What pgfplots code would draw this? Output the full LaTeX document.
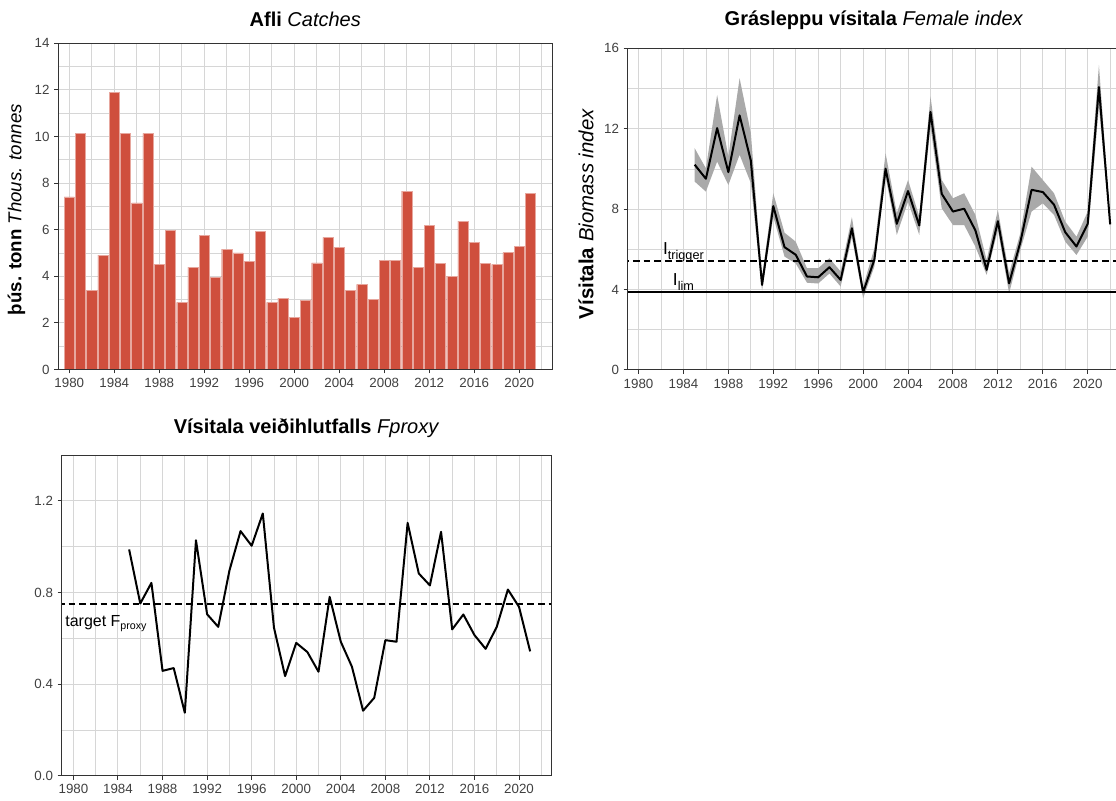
\documentclass[border=0pt]{standalone}
\usepackage{pgfplots}
\pgfplotsset{compat=1.18}
\usepackage{pgfplotstable}
\usepgfplotslibrary{fillbetween}
\usepackage{fontspec}
\setmainfont{Liberation Sans}

\definecolor{barred}{HTML}{CF4F3D}
\definecolor{gridgray}{HTML}{D6D6D6}
\definecolor{framegray}{HTML}{333333}
\definecolor{ribbon}{HTML}{A9A9A9}

\newcommand{\sub}[1]{\raisebox{-0.28em}{\fontsize{9.5}{10}\selectfont #1}}

% catches (thousand tonnes)
\pgfplotstableread{
year catch
1980 7.41
1981 10.13
1982 3.40
1983 4.91
1984 11.88
1985 10.13
1986 7.15
1987 10.13
1988 4.52
1989 5.98
1990 2.88
1991 4.39
1992 5.77
1993 3.95
1994 5.17
1995 5.01
1996 4.64
1997 5.94
1998 2.88
1999 3.06
2000 2.23
2001 2.98
2002 4.58
2003 5.67
2004 5.25
2005 3.39
2006 3.65
2007 3.00
2008 4.68
2009 4.68
2010 7.66
2011 4.39
2012 6.17
2013 4.55
2014 4.00
2015 6.37
2016 5.47
2017 4.55
2018 4.51
2019 5.02
2020 5.29
2021 7.56
}\catches

% female biomass index with band
\pgfplotstableread{
year est lo hi
1985 10.21 9.37 11.03
1986 9.51 8.87 10.03
1987 12.03 10.36 13.68
1988 9.84 9.20 10.61
1989 12.66 10.70 14.51
1990 10.42 9.30 11.80
1991 4.23 3.95 4.60
1992 8.15 7.63 8.79
1993 6.11 5.64 6.83
1994 5.73 5.30 6.38
1995 4.65 4.34 5.06
1996 4.61 4.30 5.06
1997 5.11 4.80 5.56
1998 4.48 4.15 4.90
1999 7.05 6.60 7.60
2000 3.87 3.57 4.15
2001 5.48 5.14 6.05
2002 10.01 9.62 10.78
2003 7.27 6.72 7.80
2004 8.90 8.37 9.45
2005 7.19 6.72 7.63
2006 12.83 12.10 13.60
2007 8.76 8.04 9.45
2008 7.88 7.21 8.54
2009 8.02 7.21 8.79
2010 6.94 6.13 7.71
2011 4.98 4.73 5.47
2012 7.40 6.97 7.96
2013 4.31 3.82 4.81
2014 6.35 5.97 6.80
2015 8.96 7.88 10.11
2016 8.85 8.29 9.45
2017 8.22 7.71 8.79
2018 6.85 6.38 7.38
2019 6.14 5.72 6.63
2020 7.27 6.63 7.88
2021 14.07 13.10 15.17
2022 7.24 7.00 7.50
}\findex

% Fproxy
\pgfplotstableread{
year f
1985 0.988
1986 0.752
1987 0.842
1988 0.458
1989 0.470
1990 0.275
1991 1.028
1992 0.705
1993 0.650
1994 0.895
1995 1.068
1996 1.004
1997 1.145
1998 0.647
1999 0.435
2000 0.580
2001 0.540
2002 0.454
2003 0.781
2004 0.585
2005 0.476
2006 0.284
2007 0.340
2008 0.592
2009 0.585
2010 1.104
2011 0.883
2012 0.831
2013 1.065
2014 0.639
2015 0.704
2016 0.614
2017 0.554
2018 0.650
2019 0.813
2020 0.737
2021 0.543
}\fproxy

\pgfplotsset{
  layers/gglayers/.define layer set={axis background,axis grid,pre main,main,axis ticks,axis lines,axis tick labels,axis descriptions,axis foreground}{/pgfplots/layers/standard},
  ggstyle/.style={
    set layers=gglayers,
    scale only axis,
    anchor=south west,
    axis line style={framegray, line width=0.75pt},
    tick style={framegray, line width=0.75pt},
    tick align=outside,
    xtick pos=bottom, ytick pos=left,
    major tick length=3pt,
    minor tick length=0pt,
    grid=both,
    major grid style={gridgray, line width=0.75pt},
    minor grid style={gridgray, line width=0.6pt},
    tick label style={font=\fontsize{10}{12}\selectfont, text=black!75},
    /pgf/number format/assume math mode=true,
    /pgf/number format/1000 sep={},
    scaled ticks=false,
    xtick={1980,1984,...,2020},
    minor xtick={1982,1986,...,2022},
    title style={font=\fontsize{15}{18}\selectfont, at={(0.5,1)}, anchor=base},
    ylabel style={anchor=base},
  },
}

\begin{document}
\begin{tikzpicture}

% Afli / Catches
\begin{axis}[ggstyle,
  at={(43.7pt,322.9pt)}, width=370.5pt, height=244.6pt,
  xmin=1979.02, xmax=2022.93, ymin=0, ymax=14,
  ytick={0,2,...,14}, minor ytick={1,3,...,13},
  ybar, bar width=0.9,
  title={\textbf{Afli} \textit{Catches}}, title style={yshift=6.5pt},
  ylabel={\textbf{þús. tonn} \textit{Thous. tonnes}},
  ylabel style={font=\fontsize{14}{17}\selectfont, at={(axis description cs:-0.0749,0.49)}},
]
\addplot[fill=barred, draw=white!50!barred, line width=0.35pt] table[x=year, y=catch] {\catches};
\end{axis}

% Grásleppu vísitala / Female index
\begin{axis}[ggstyle,
  at={(470.8pt,322.5pt)}, width=369.4pt, height=241.3pt,
  xmin=1979.04, xmax=2022.9, ymin=0, ymax=16,
  ytick={0,4,...,16}, minor ytick={2,6,10,14},
  title={\textbf{Grásleppu vísitala} \textit{Female index}}, title style={yshift=10.7pt},
  ylabel={\textbf{Vísitala} \textit{Biomass index}},
  ylabel style={font=\fontsize{15.3}{18}\selectfont, at={(axis description cs:-0.0698,0.485)}},
]
\addplot[name path=hi, draw=none, forget plot] table[x=year, y=hi] {\findex};
\addplot[name path=lo, draw=none, forget plot] table[x=year, y=lo] {\findex};
\addplot[ribbon, draw=none] fill between[of=hi and lo];
\addplot[black, line width=1.5pt, dash pattern=on 5pt off 3pt] coordinates {(1970,5.42) (2030,5.42)};
\addplot[black, line width=1.5pt] coordinates {(1970,3.87) (2030,3.87)};
\addplot[black, line width=1.5pt, line join=round] table[x=year, y=est] {\findex};
\node[anchor=base, inner sep=0pt, font=\fontsize{13}{15}\selectfont] at (axis cs:1984,5.72) {I\sub{trigger}};
\node[anchor=base, inner sep=0pt, font=\fontsize{13}{15}\selectfont] at (axis cs:1984,4.20) {I\sub{lim}};
\end{axis}

% Vísitala veiðihlutfalls / Fproxy
\begin{axis}[ggstyle,
  at={(46.3pt,18.2pt)}, width=367.2pt, height=240.5pt,
  xmin=1978.95, xmax=2022.9, ymin=0, ymax=1.4,
  ytick={0,0.4,0.8,1.2}, minor ytick={0.2,0.6,1.0},
  yticklabel style={/pgf/number format/.cd, fixed, fixed zerofill, precision=1},
  title={\textbf{Vísitala veiðihlutfalls} \textit{Fproxy}}, title style={yshift=10.3pt},
]
\addplot[black, line width=1.5pt, dash pattern=on 5pt off 3pt] coordinates {(1970,0.75) (2030,0.75)};
\addplot[black, line width=1.5pt, line join=round] table[x=year, y=f] {\fproxy};
\node[anchor=base west, inner sep=0pt, font=\fontsize{12}{14}\selectfont] at (axis cs:1979.25,0.65) {target F\textsubscript{proxy}};
\end{axis}

\pgfresetboundingbox
\path[use as bounding box] (0,0) rectangle (837pt,600pt);
\end{tikzpicture}
\end{document}
